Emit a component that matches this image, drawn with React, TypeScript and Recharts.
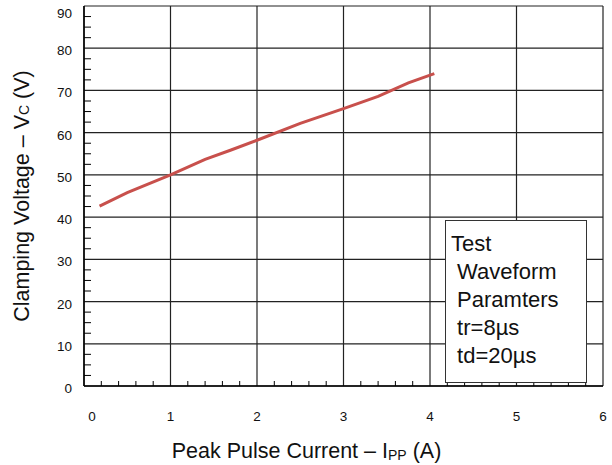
import React from 'react'
import {LineChart, Line, XAxis, YAxis, CartesianGrid} from 'recharts'

// Peak pulse current (A) vs clamping voltage (V)
const currentA = [0.18, 0.5, 1.0, 1.4, 1.7, 2.0, 2.5, 3.0, 3.4, 3.75, 4.05]
const clampV = [42.6, 45.8, 50.0, 53.7, 55.9, 58.2, 62.2, 65.7, 68.6, 71.8, 74.0]

const xMajor = [0, 1, 2, 3, 4, 5, 6]
const yMajor = [0, 10, 20, 30, 40, 50, 60, 70, 80, 90]
const legendLines = ['Test', ' Waveform', ' Paramters', ' tr=8µs', ' td=20µs']

const xTicks = xMajor.flatMap((v, i) => (i < xMajor.length - 1 ? [v, v + 0.2, v + 0.4, v + 0.6, v + 0.8] : [v]))
const yTicks = yMajor.flatMap((v, i) => (i < yMajor.length - 1 ? [v, v + 2.5, v + 5, v + 7.5] : [v]))

const chartData = currentA.map((x, i) => ({x, v: clampV[i]}))

const FONT = '"Liberation Sans", Arial, sans-serif'

const isMajor = (v: number) => Math.abs(v - Math.round(v)) < 1e-6

const XTick = ({x, y, payload}: any) => {
  const v = payload.value
  if (!isMajor(v)) return <line x1={x} x2={x} y1={y} y2={y - 5} stroke="#000" strokeWidth={1} />
  return (
    <text x={x + (v === 0 ? 8 : 0)} y={y + 35} textAnchor="middle" fontSize={13.5} fill="#111" fontFamily={FONT}>
      {v}
    </text>
  )
}

const YTick = ({x, y, payload}: any) => {
  const v = payload.value
  if (v % 10 !== 0) return <line x1={x} x2={x + 7} y1={y} y2={y} stroke="#000" strokeWidth={1} />
  return (
    <text x={x - 12} y={y + (v === 90 ? 12 : 7)} textAnchor="end" fontSize={13.5} fill="#111" fontFamily={FONT}>
      {v}
    </text>
  )
}

const XTitle = ({viewBox}: any) => (
  <text x={viewBox.x + viewBox.width / 2 - 37} y={viewBox.y + 72} textAnchor="middle" fontSize={21.5} fill="#111" fontFamily={FONT}>
    Peak Pulse Current – I
    <tspan fontSize={14} dy={2}>PP</tspan>
    <tspan dy={-2}> (A)</tspan>
  </text>
)

const YTitle = ({viewBox}: any) => {
  const cx = viewBox.x + 22
  const cy = viewBox.y + 190
  return (
    <text x={cx} y={cy} transform={`rotate(-90, ${cx}, ${cy})`} textAnchor="middle" dominantBaseline="central" fontSize={21.5} fill="#111" fontFamily={FONT}>
      Clamping Voltage – V
      <tspan fontSize={14} dy={2}>C</tspan>
      <tspan dy={-2}> (V)</tspan>
    </text>
  )
}

export default function App() {
  return (
    <div style={{position: 'absolute', left: 0, top: 0, width: 612, height: 465, background: '#fff', fontFamily: FONT}}>
      <LineChart width={612} height={465} data={chartData} margin={{top: 6, right: 9, bottom: 0, left: 0}}>
        <CartesianGrid horizontalValues={yMajor} verticalValues={xMajor} stroke="#222" strokeWidth={1.2} />
        <XAxis
          dataKey="x"
          type="number"
          domain={[0, 6]}
          ticks={xTicks}
          interval={0}
          height={79}
          tickSize={0}
          tickMargin={0}
          tickLine={false}
          axisLine={{stroke: '#000', strokeWidth: 1.5}}
          tick={<XTick />}
          label={{content: (p: any) => <XTitle {...p} />}}
        />
        <YAxis
          type="number"
          domain={[0, 90]}
          ticks={yTicks}
          interval={0}
          width={84}
          tickSize={0}
          tickMargin={0}
          tickLine={false}
          axisLine={{stroke: '#000', strokeWidth: 1.5}}
          tick={<YTick />}
          label={{content: (p: any) => <YTitle {...p} />}}
        />
        <Line isAnimationActive={false} type="linear" dataKey="v" stroke="#c8504c" strokeWidth={3} dot={false} />
      </LineChart>
      <div
        style={{
          position: 'absolute',
          left: 445,
          top: 220,
          width: 135,
          height: 152,
          border: '1px solid #333',
          background: '#fff',
          paddingTop: 9,
          paddingLeft: 5,
          fontSize: 22,
          lineHeight: '28px',
          color: '#111',
          whiteSpace: 'pre',
        }}
      >
        {legendLines.map(line => (
          <div key={line}>{line}</div>
        ))}
      </div>
    </div>
  )
}
